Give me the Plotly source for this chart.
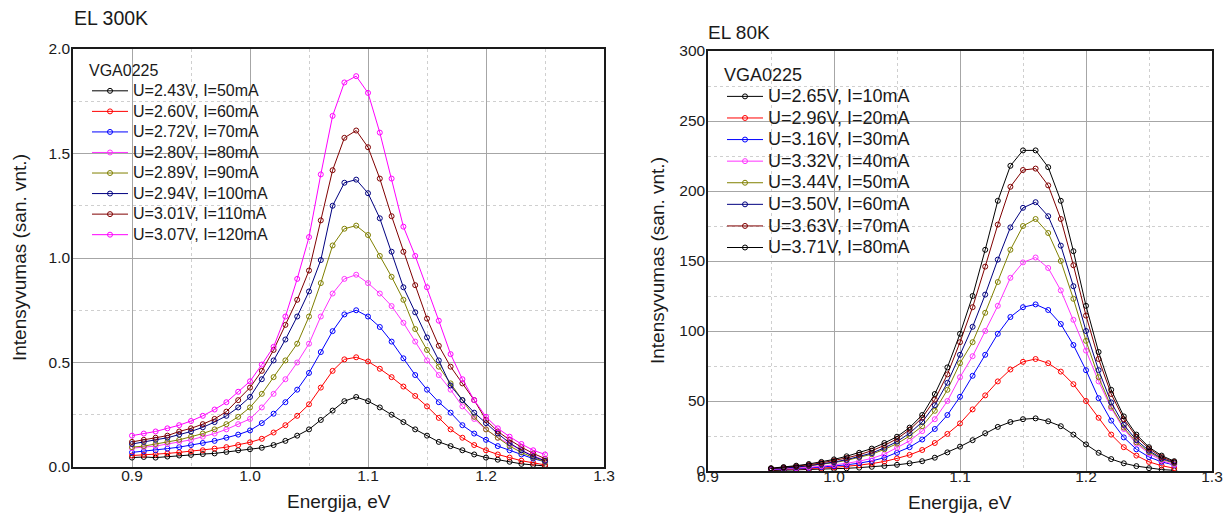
import plotly.graph_objects as go

# ---------------- data: EL 300K ----------------
energy_300 = [0.90, 0.91, 0.92, 0.93, 0.94, 0.95, 0.96, 0.97, 0.98, 0.99,
              1.00, 1.01, 1.02, 1.03, 1.04, 1.05, 1.06, 1.07, 1.08, 1.09,
              1.10, 1.11, 1.12, 1.13, 1.14, 1.15, 1.16, 1.17, 1.18, 1.19,
              1.20, 1.21, 1.22, 1.23, 1.24, 1.25]
labels_300 = ["U=2.43V, I=50mA", "U=2.60V, I=60mA", "U=2.72V, I=70mA", "U=2.80V, I=80mA",
              "U=2.89V, I=90mA", "U=2.94V, I=100mA", "U=3.01V, I=110mA", "U=3.07V, I=120mA"]
i50 = [0.045, 0.048, 0.045, 0.050, 0.055, 0.058, 0.062, 0.065, 0.072, 0.080,
       0.085, 0.092, 0.105, 0.125, 0.150, 0.180, 0.225, 0.270, 0.315, 0.335,
       0.315, 0.285, 0.250, 0.215, 0.180, 0.150, 0.120, 0.100, 0.080, 0.060,
       0.045, 0.035, 0.025, 0.015, 0.010, 0.005]
i60 = [0.055, 0.058, 0.060, 0.065, 0.070, 0.075, 0.080, 0.088, 0.095, 0.105,
       0.118, 0.135, 0.165, 0.200, 0.245, 0.300, 0.380, 0.460, 0.515, 0.525,
       0.505, 0.470, 0.430, 0.385, 0.340, 0.290, 0.235, 0.180, 0.140, 0.105,
       0.080, 0.060, 0.045, 0.030, 0.020, 0.010]
i70 = [0.070, 0.075, 0.080, 0.088, 0.095, 0.105, 0.115, 0.125, 0.140, 0.155,
       0.175, 0.210, 0.255, 0.310, 0.370, 0.450, 0.550, 0.650, 0.730, 0.750,
       0.720, 0.670, 0.600, 0.520, 0.440, 0.370, 0.310, 0.260, 0.200, 0.160,
       0.130, 0.100, 0.080, 0.060, 0.040, 0.025]
i80 = [0.090, 0.095, 0.100, 0.110, 0.120, 0.130, 0.145, 0.160, 0.180, 0.205,
       0.230, 0.285, 0.350, 0.420, 0.500, 0.590, 0.720, 0.830, 0.900, 0.920,
       0.880, 0.830, 0.770, 0.690, 0.600, 0.510, 0.440, 0.370, 0.290, 0.230,
       0.180, 0.140, 0.110, 0.080, 0.055, 0.030]
i90 = [0.095, 0.100, 0.110, 0.120, 0.130, 0.145, 0.160, 0.180, 0.205, 0.240,
       0.285, 0.350, 0.430, 0.510, 0.590, 0.720, 0.880, 1.060, 1.140, 1.155,
       1.110, 1.010, 0.910, 0.800, 0.660, 0.560, 0.480, 0.400, 0.320, 0.240,
       0.180, 0.140, 0.100, 0.070, 0.045, 0.025]
i100 = [0.110, 0.120, 0.130, 0.140, 0.155, 0.170, 0.190, 0.215, 0.245, 0.285,
        0.335, 0.420, 0.510, 0.610, 0.720, 0.840, 0.990, 1.250, 1.360, 1.375,
        1.310, 1.190, 1.030, 0.860, 0.740, 0.620, 0.510, 0.390, 0.320, 0.260,
        0.210, 0.160, 0.115, 0.080, 0.050, 0.030]
i110 = [0.120, 0.130, 0.140, 0.150, 0.170, 0.185, 0.205, 0.230, 0.265, 0.320,
        0.380, 0.460, 0.560, 0.680, 0.800, 0.940, 1.180, 1.420, 1.575, 1.610,
        1.530, 1.380, 1.200, 1.030, 0.870, 0.710, 0.580, 0.480, 0.400, 0.320,
        0.225, 0.170, 0.130, 0.095, 0.065, 0.040]
i120 = [0.150, 0.160, 0.170, 0.185, 0.200, 0.220, 0.245, 0.275, 0.310, 0.360,
        0.410, 0.490, 0.575, 0.720, 0.900, 1.100, 1.400, 1.680, 1.840, 1.870,
        1.790, 1.600, 1.380, 1.150, 1.010, 0.860, 0.700, 0.540, 0.420, 0.320,
        0.240, 0.185, 0.145, 0.110, 0.080, 0.060]
series_300 = [i50, i60, i70, i80, i90, i100, i110, i120]

# ---------------- data: EL 80K ----------------
energy_80 = [0.95, 0.96, 0.97, 0.98, 0.99, 1.00, 1.01, 1.02, 1.03, 1.04,
             1.05, 1.06, 1.07, 1.08, 1.09, 1.10, 1.11, 1.12, 1.13, 1.14,
             1.15, 1.16, 1.17, 1.18, 1.19, 1.20, 1.21, 1.22, 1.23, 1.24,
             1.25, 1.26, 1.27]
labels_80 = ["U=2.65V, I=10mA", "U=2.96V, I=20mA", "U=3.16V, I=30mA", "U=3.32V, I=40mA",
             "U=3.44V, I=50mA", "U=3.50V, I=60mA", "U=3.63V, I=70mA", "U=3.71V, I=80mA"]
c10 = [0.3, 0.5, 0.7, 0.9, 1.2, 1.5, 1.9, 2.4, 3.0, 3.6,
       4.4, 5.5, 7.0, 9.5, 13.3, 17.4, 22.0, 27.0, 31.5, 35.0,
       37.0, 37.6, 35.5, 32.0, 26.0, 19.0, 13.0, 8.5, 5.5, 3.5,
       2.0, 1.0, 0.5]
c20 = [0.8, 1.0, 1.3, 1.7, 2.1, 2.6, 3.3, 4.2, 5.3, 6.8,
       9.0, 11.5, 15.0, 20.0, 26.5, 34.0, 44.0, 54.0, 64.0, 72.5,
       78.0, 80.0, 77.0, 71.0, 62.0, 50.0, 38.0, 26.0, 17.0, 11.0,
       6.5, 3.8, 2.0]
c30 = [1.0, 1.3, 1.7, 2.2, 2.8, 3.5, 4.4, 5.6, 7.2, 9.5,
       13.0, 17.0, 22.5, 30.0, 40.0, 53.0, 68.0, 83.0, 98.0, 110.0,
       117.0, 119.0, 115.0, 105.0, 90.0, 72.0, 52.0, 36.0, 24.0, 15.5,
       10.0, 6.5, 4.3]
c40 = [1.2, 1.6, 2.1, 2.7, 3.4, 4.3, 5.5, 7.0, 9.0, 12.0,
       16.5, 21.5, 28.5, 37.0, 50.0, 67.0, 82.0, 100.0, 118.0, 138.0,
       149.0, 152.5, 145.0, 129.0, 108.0, 86.0, 64.0, 45.0, 30.0, 19.5,
       12.5, 7.5, 4.5]
c50 = [1.5, 2.0, 2.7, 3.6, 4.7, 6.0, 7.6, 9.6, 12.0, 15.5,
       19.5, 25.0, 32.0, 43.0, 58.0, 77.0, 92.0, 113.0, 135.0, 158.0,
       175.0, 180.0, 170.0, 150.0, 123.0, 93.0, 67.0, 46.0, 31.0, 20.5,
       13.5, 8.5, 5.5]
c60 = [1.6, 2.1, 2.8, 3.8, 5.0, 6.4, 8.1, 10.2, 12.8, 16.5,
       21.0, 27.0, 35.0, 47.0, 63.0, 83.0, 103.0, 126.0, 151.0, 174.0,
       188.0, 192.0, 182.0, 161.0, 132.0, 100.0, 72.0, 49.0, 33.0, 22.0,
       14.5, 9.0, 6.0]
c70 = [1.8, 2.5, 3.3, 4.4, 5.8, 7.4, 9.3, 11.6, 14.5, 18.3,
       23.0, 29.5, 38.0, 51.0, 69.0, 92.0, 117.0, 146.0, 176.0, 203.0,
       215.0, 216.0, 204.0, 180.0, 147.0, 111.0, 80.0, 55.0, 37.0, 24.5,
       16.0, 10.0, 6.5]
c80 = [2.0, 2.8, 3.8, 5.0, 6.5, 8.3, 10.5, 13.0, 16.0, 20.0,
       24.5, 31.0, 40.0, 55.0, 74.0, 98.0, 125.0, 158.0, 193.0, 218.0,
       229.0, 229.0, 217.0, 193.0, 157.0, 118.0, 85.0, 58.0, 39.0, 26.0,
       17.0, 11.0, 7.0]
series_80 = [c10, c20, c30, c40, c50, c60, c70, c80]

colors_300 = ["#000000", "#ff0000", "#0000ff", "#ff33ff", "#808000", "#000080", "#800000", "#ff00ff"]
colors_80 = ["#000000", "#ff0000", "#0000ff", "#ff33ff", "#808000", "#000080", "#800000", "#000000"]

FONT = "Arial, Liberation Sans, sans-serif"
TXT = "#1a1a1a"

def span(text, px):
    return '<span style="font-size:%dpx">%s</span>' % (px, text)

fig = go.Figure()
for ys, name, col in zip(series_300, labels_300, colors_300):
    fig.add_trace(go.Scatter(
        x=energy_300, y=ys, name=span(name, 16), mode="lines+markers",
        line=dict(color=col, width=1),
        marker=dict(symbol="circle-open", size=5, color=col, line=dict(width=1, color=col)),
        xaxis="x", yaxis="y", legend="legend"))
for ys, name, col in zip(series_80, labels_80, colors_80):
    fig.add_trace(go.Scatter(
        x=energy_80, y=ys, name=span(name, 18), mode="lines+markers",
        line=dict(color=col, width=1),
        marker=dict(symbol="circle-open", size=5, color=col, line=dict(width=1, color=col)),
        xaxis="x2", yaxis="y2", legend="legend2"))

W, H = 1229, 515
def dx(a, b):
    return [a / W, b / W]
def dy(top, bottom):
    return [(H - bottom) / H, (H - top) / H]
def px_x(v):
    return v / W
def px_y(v):
    return 1 - v / H

grid_major = "#a6a6a6"
grid_minor = "#cfcfcf"

def xax(domain, anchor, rng, standoff):
    return dict(domain=domain, anchor=anchor, range=rng, dtick=0.1, tick0=0.9,
                tickformat=".1f", showgrid=True, gridcolor=grid_major, gridwidth=1,
                minor=dict(dtick=0.05, tick0=0.9, showgrid=True, gridcolor=grid_minor,
                           griddash="dot", gridwidth=1, ticks=""),
                showline=True, mirror=True, linecolor=TXT, linewidth=1.5,
                ticks="", zeroline=False, automargin=False, ticklabelstandoff=standoff,
                tickfont=dict(family=FONT, size=15.5, color=TXT))

def yax(domain, anchor, rng, dt, fmt, minor_dt):
    return dict(domain=domain, anchor=anchor, range=rng, dtick=dt, tick0=0,
                tickformat=fmt, showgrid=True, gridcolor=grid_major, gridwidth=1,
                minor=dict(dtick=minor_dt, tick0=0, showgrid=True, gridcolor=grid_minor,
                           griddash="dot", gridwidth=1, ticks=""),
                showline=True, mirror=True, linecolor=TXT, linewidth=1.5,
                ticks="", zeroline=False, automargin=False, ticklabelstandoff=-2,
                tickfont=dict(family=FONT, size=15.5, color=TXT))

def text_ann(text, x, y, size, angle=0, xanchor="center"):
    return dict(text=text, x=px_x(x), y=px_y(y), xref="paper", yref="paper",
                xanchor=xanchor, yanchor="middle", showarrow=False, textangle=angle,
                font=dict(family=FONT, size=size, color=TXT))

fig.update_layout(
    width=W, height=H,
    margin=dict(l=0, r=0, t=0, b=0, autoexpand=False),
    paper_bgcolor="white", plot_bgcolor="white",
    font=dict(family=FONT, color=TXT),
    xaxis=xax(dx(73, 604), "y", [0.85, 1.3], -6),
    yaxis=yax(dy(49, 467), "x", [0, 2.0], 0.5, ".1f", 0.25),
    xaxis2=xax(dx(708, 1212), "y2", [0.9, 1.3], -9),
    yaxis2=yax(dy(51, 471), "x2", [0, 300], 50, "d", 25),
    legend=dict(x=px_x(87), y=px_y(58), xanchor="left", yanchor="top",
                bgcolor="rgba(0,0,0,0)", borderwidth=0,
                font=dict(family=FONT, size=13.5, color=TXT),
                title=dict(text=span("VGA0225", 16), font=dict(family=FONT, size=13.5, color=TXT)),
                itemwidth=36, tracegroupgap=0),
    legend2=dict(x=px_x(722), y=px_y(62), xanchor="left", yanchor="top",
                 bgcolor="rgba(0,0,0,0)", borderwidth=0,
                 font=dict(family=FONT, size=14.3, color=TXT),
                 title=dict(text=span("VGA0225", 18), font=dict(family=FONT, size=14.3, color=TXT)),
                 itemwidth=36, tracegroupgap=0),
    annotations=[
        text_ann("EL 300K", 72, 18, 19.5, xanchor="left"),
        text_ann("EL 80K", 706, 32, 19, xanchor="left"),
        text_ann("Energija, eV", 338.5, 501, 19),
        text_ann("Energija, eV", 960, 502, 19),
        text_ann("Intensyvumas (san. vnt.)", 19, 258, 19, angle=-90),
        text_ann("Intensyvumas (san. vnt.)", 657, 261, 19, angle=-90),
    ],
)

fig.write_html("out.html")
